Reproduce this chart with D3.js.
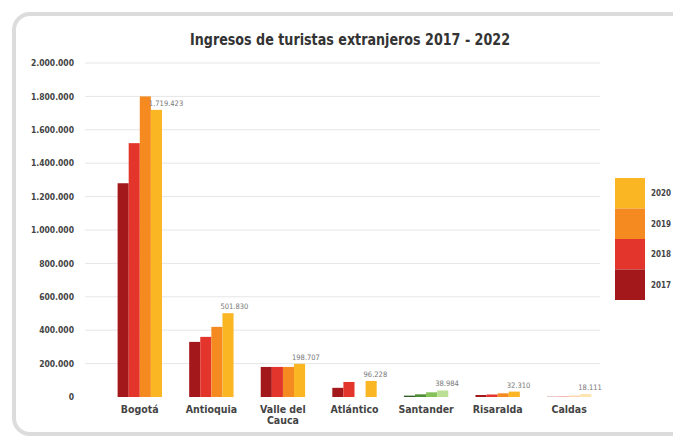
<!DOCTYPE html>
<html>
<head>
<meta charset="utf-8">
<script src="https://cdn.jsdelivr.net/npm/d3@7"></script>
<style>
  body { margin: 0; background: #fff; }
  text { font-family: "Liberation Sans Narrow", "DejaVu Sans Condensed", "Roboto", sans-serif; }
</style>
</head>
<body>
<script>
// DATA
var departments = ["Bogotá", "Antioquia", "Valle del Cauca", "Atlántico", "Santander", "Risaralda", "Caldas"];
var years = ["2017", "2018", "2019", "2020"];
var v2017 = [1280000, 330000, 180000, 55000, 8000, 12000, 4000];
var v2018 = [1520000, 360000, 180000, 90000, 16000, 15000, 6000];
var v2019 = [1800000, 420000, 180000, 0, 28000, 22000, 9000];
var v2020 = [1719423, 501830, 198707, 96228, 38984, 32310, 18111];
var yTicks = [0, 200000, 400000, 600000, 800000, 1000000, 1200000, 1400000, 1600000, 1800000, 2000000];

var series = [v2017, v2018, v2019, v2020];
var colors = ["#a3191b", "#e3352b", "#f58b20", "#fbb624"];
// Santander bars show up greenish in the picture
var greens = ["#2f5d22", "#4f8f35", "#86c25a", "#badf95"];

var W = 673, H = 440;
var svg = d3.select("body").append("svg")
  .attr("width", W)
  .attr("height", H);

// frame
svg.append("rect")
  .attr("x", 14).attr("y", 14)
  .attr("width", 700).attr("height", 420)
  .attr("rx", 16).attr("ry", 16)
  .attr("fill", "#fff")
  .attr("stroke", "#dcdcdc")
  .attr("stroke-width", 4);

// title
svg.append("text")
  .attr("x", 350).attr("y", 45)
  .attr("text-anchor", "middle")
  .attr("font-size", 15)
  .attr("font-weight", "bold")
  .attr("fill", "#333")
  .attr("textLength", 320)
  .attr("lengthAdjust", "spacingAndGlyphs")
  .text("Ingresos de turistas extranjeros 2017 - 2022");

// scales
var y = d3.scaleLinear().domain([0, 2000000]).range([397, 63]);
var x0 = d3.scaleBand().domain(departments).range([104, 605]).paddingInner(0.38).paddingOuter(0.19);
var x1 = d3.scaleBand().domain(years).range([0, x0.bandwidth()]);

var fmt = function (v) { return d3.format(",")(v).replace(/,/g, "."); };

// gridlines
svg.append("g").selectAll("line")
  .data(yTicks.slice(1))
  .join("line")
  .attr("x1", 85).attr("x2", 600)
  .attr("y1", function (d) { return y(d); })
  .attr("y2", function (d) { return y(d); })
  .attr("stroke", "#e6e6e6")
  .attr("stroke-width", 1);

// y axis
var yAxis = svg.append("g")
  .attr("transform", "translate(78,0)")
  .call(d3.axisLeft(y).tickValues(yTicks).tickSize(0).tickPadding(4).tickFormat(fmt));
yAxis.select(".domain").remove();
yAxis.selectAll("text")
  .attr("font-size", 8.5)
  .attr("font-weight", "bold")
  .attr("fill", "#444");

// bars
var groups = svg.append("g").selectAll("g")
  .data(departments)
  .join("g")
  .attr("transform", function (d) { return "translate(" + x0(d) + ",0)"; });

groups.selectAll("rect")
  .data(function (d, i) {
    return years.map(function (yr, j) { return { dep: d, year: yr, j: j, value: series[j][i] }; });
  })
  .join("rect")
  .attr("x", function (d) { return x1(d.year); })
  .attr("width", x1.bandwidth())
  .attr("y", function (d) { return y(d.value); })
  .attr("height", function (d) { return y(0) - y(d.value); })
  .attr("fill", function (d) { return d.dep === "Santander" ? greens[d.j] : colors[d.j]; })
  .attr("opacity", function (d) { return d.dep === "Caldas" ? 0.35 : 1; });

// value labels on the last bar
groups.append("text")
  .attr("x", function (d, i) { return x1("2020") - 2; })
  .attr("y", function (d, i) { return y(v2020[i]) - 4; })
  .attr("font-size", 7.5)
  .attr("fill", "#777")
  .text(function (d, i) { return fmt(v2020[i]); });

// x axis labels (Valle del Cauca on two lines)
var xLabels = svg.append("g");
departments.forEach(function (d) {
  var lines = d === "Valle del Cauca" ? ["Valle del", "Cauca"] : [d];
  lines.forEach(function (line, k) {
    xLabels.append("text")
      .attr("x", x0(d) + x0.bandwidth() / 2)
      .attr("y", 413 + k * 11)
      .attr("text-anchor", "middle")
      .attr("font-size", 10.5)
      .attr("font-weight", "bold")
      .attr("fill", "#444")
      .text(line);
  });
});

// legend
var legend = svg.append("g").attr("transform", "translate(615,178)");
var order = years.slice().reverse();
legend.selectAll("rect")
  .data(order)
  .join("rect")
  .attr("x", 0)
  .attr("y", function (d, i) { return i * 30.5; })
  .attr("width", 30)
  .attr("height", 30.5)
  .attr("fill", function (d) { return colors[years.indexOf(d)]; });
legend.selectAll("text")
  .data(order)
  .join("text")
  .attr("x", 36)
  .attr("y", function (d, i) { return i * 30.5 + 18; })
  .attr("font-size", 8)
  .attr("font-weight", "bold")
  .attr("fill", "#444")
  .text(function (d) { return d; });
</script>
</body>
</html>
